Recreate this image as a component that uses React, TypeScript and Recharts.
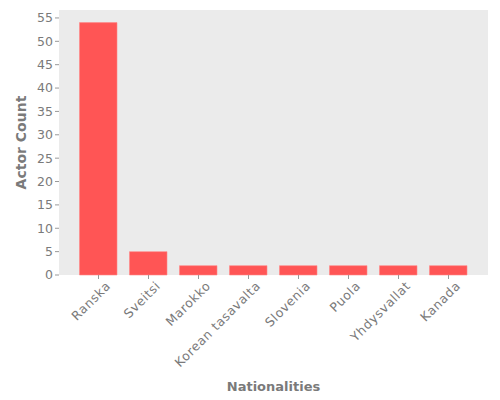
import React from "react";
import { BarChart, Bar, XAxis, YAxis, CartesianGrid } from "recharts";

const categories = ["Ranska", "Sveitsi", "Marokko", "Korean tasavalta", "Slovenia", "Puola", "Yhdysvallat", "Kanada"];
const actorCounts = [54, 5, 2, 2, 2, 2, 2, 2];
const yTicks = [0, 5, 10, 15, 20, 25, 30, 35, 40, 45, 50, 55];

const data = categories.map((c, i) => ({ name: c, count: actorCounts[i] }));

const FONT = "DejaVu Sans";
const TEXT = "#7a7a7a";

const XTick = (props: any) => {
  const { x, y, payload } = props;
  return (
    <g transform={`translate(${x},${y})`}>
      <text
        x={0}
        y={0}
        dx={5}
        dy={13}
        transform="rotate(-45)"
        textAnchor="end"
        fontFamily={FONT}
        fontSize={12.5}
        letterSpacing={0.6}
        fill={TEXT}
      >
        {payload.value}
      </text>
    </g>
  );
};

export default function App() {
  return (
    <div style={{ position: "absolute", left: 0, top: 0, width: 500, height: 400, background: "#fff" }}>
      <BarChart
        width={500}
        height={400}
        data={data}
        margin={{ top: 10, right: 12, left: 0, bottom: 0 }}
      >
        <rect x={59} y={10} width={429} height={265} fill="#EBEBEB" />
        <CartesianGrid vertical={false} stroke="#ffffff" strokeWidth={1} />
        <XAxis
          dataKey="name"
          height={125}
          interval={0}
          padding={{ left: 14.5, right: 14.5 }}
          axisLine={false}
          tickLine={{ stroke: "#999999" }}
          tickSize={4}
          tick={<XTick />}
          label={{
            value: "Nationalities",
            position: "insideBottom",
            offset: 9,
            fill: TEXT,
            fontFamily: FONT,
            fontSize: 13,
            fontWeight: "bold",
          }}
        />
        <YAxis
          width={59}
          domain={[0, 56.7]}
          ticks={yTicks}
          interval={0}
          axisLine={false}
          tickLine={{ stroke: "#999999" }}
          tickSize={4}
          tick={{ fill: TEXT, fontFamily: FONT, fontSize: 12.5 }}
          label={{
            value: "Actor Count",
            angle: -90,
            position: "insideLeft",
            offset: 21,
            fill: TEXT,
            fontFamily: FONT,
            fontSize: 14,
            fontWeight: "bold",
            style: { textAnchor: "middle" },
          }}
        />
        <Bar dataKey="count" fill="#FF5555" stroke="#FF8888" strokeWidth={0.6} barSize={37.5} isAnimationActive={false} />
      </BarChart>
    </div>
  );
}
